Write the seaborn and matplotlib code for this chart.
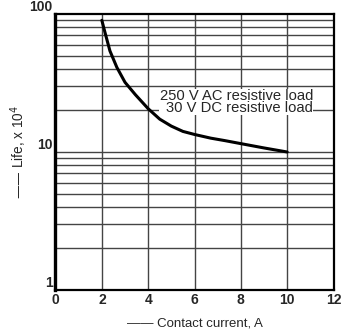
import matplotlib
matplotlib.use("Agg")
import matplotlib.pyplot as plt
import seaborn as sns
import numpy as np
import pandas as pd
from matplotlib.ticker import FixedLocator, NullFormatter

sns.set_theme(style="white")
plt.rcParams['font.family'] = ['Liberation Sans', 'DejaVu Sans']

current = [2, 2.15, 2.35, 2.65, 3, 3.45, 4, 4.5, 5, 5.5, 6, 6.7, 7.3, 8, 9, 10]
life = [90, 72, 54, 41, 32, 26, 20.6, 17.3, 15.4, 14.1, 13.4, 12.6, 12.1, 11.5, 10.7, 10]
x_ticks = [0, 2, 4, 6, 8, 10, 12]
y_ticks = [1, 10, 100]
note_lines = ["250 V AC resistive load", "30 V DC resistive load"]

df = pd.DataFrame({"current": current, "life": life})

fig = plt.figure(figsize=(3.45, 3.33), dpi=100)
ax = fig.add_axes([55.5/345, 1 - 290/333, (333.5-55.5)/345, (290-14)/333])

ax.set_yscale("log")
ax.set_xlim(0, 12)
ax.set_ylim(1, 100)

# grid
minor = [m * 10**e for e in range(0, 2) for m in range(2, 10)]
for v in minor + [10]:
    ax.axhline(v, color="#444444", lw=1.0, zorder=1)
for v in x_ticks[1:-1]:
    ax.axvline(v, color="#444444", lw=1.0, zorder=1)

sns.lineplot(data=df, x="current", y="life", ax=ax, color="black", lw=2.2, zorder=3)
ax.lines[-1].set_solid_joinstyle("round")

ax.text(11.12, 23.0, note_lines[0] + "\n" + note_lines[1], ha="right", va="center",
        fontsize=10.6, linespacing=0.78, multialignment="right", zorder=4,
        bbox=dict(facecolor="white", edgecolor="none", pad=0.2))

ax.xaxis.set_major_locator(FixedLocator(x_ticks))
ax.set_xticklabels([str(t) for t in x_ticks], fontsize=10, fontweight="bold")
ax.yaxis.set_major_locator(FixedLocator(y_ticks))
ax.yaxis.set_minor_formatter(NullFormatter())
ax.set_yticklabels([str(t) for t in y_ticks], fontsize=10, fontweight="bold")
ax.tick_params(axis="both", which="both", length=0, pad=2)
for lbl in ax.get_yticklabels():
    lbl.set_verticalalignment("bottom")
ax.set_xlabel("")
ax.set_ylabel("")

for s in ax.spines.values():
    s.set_color("black")
    s.set_linewidth(1.6)
ax.spines["left"].set_linewidth(2.4)

fig.text(19/345, 1 - 152/333, "—— Life, x 10$^4$", rotation=90, ha="center", va="center", fontsize=9.8)
fig.text(195/345, 1 - 323/333, "—— Contact current, A", ha="center", va="center", fontsize=9.5)

fig.savefig("out.png", dpi=100, facecolor="white")
